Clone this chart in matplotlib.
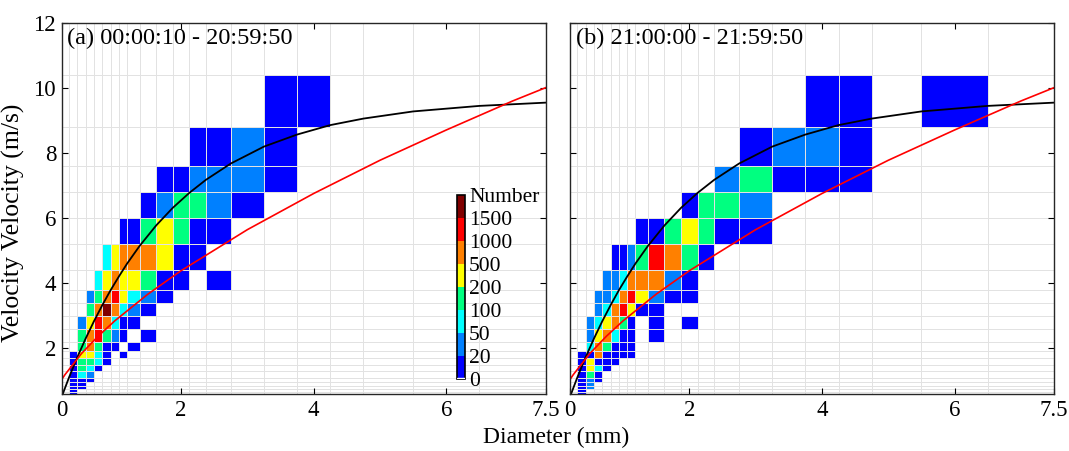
import numpy as np
import matplotlib
matplotlib.use('Agg')
import matplotlib.pyplot as plt
from matplotlib.colors import ListedColormap, BoundaryNorm
from matplotlib.cm import ScalarMappable

plt.rcParams['font.family'] = 'Liberation Serif'

# Parsivel class centres, used as pcolor vertices
diam_edges = [0.062, 0.187, 0.312, 0.437, 0.562, 0.687, 0.812, 0.937, 1.062, 1.187,
              1.375, 1.625, 1.875, 2.125, 2.375, 2.75, 3.25, 3.75, 4.25, 4.75,
              5.5, 6.5, 7.5, 8.5]
vel_edges = [0.45, 0.55, 0.65, 0.75, 0.85, 0.95, 1.1, 1.3, 1.5, 1.7, 1.9,
             2.2, 2.6, 3.0, 3.4, 3.8, 4.4, 5.2, 6.0, 6.8, 7.6, 8.8, 10.4, 12.0, 13.6]

# colour class of each cell (0 = none, 1 = 0-20 ... 8 = >1500), top row first,
# columns start at D = 0.187 mm, rows start at V = 0.55 m/s
class_a = [
    "...............11",
    "............1121",
    "..........112221",
    ".........124421",
    ".......1145411",
    ".....35666511",
    "....3565541101",
    "...24675321",
    "...4686321",
    "..2576311",
    "..46742101",
    "..4641101",
    ".1553101",
    ".14431",
    ".1431",
    ".132",
    ".111",
    ".11",
    ".11",
    ".1",
    ".1",
]
class_b = [
    "................11.1",
    "..............1221",
    ".............24111",
    "...........1442",
    "........1145411",
    ".....11247641",
    "....22366621",
    "...223675211",
    "...2367511",
    "..235641.1.1",
    "..256311.1",
    "..364111",
    ".1161111",
    ".15111",
    ".1531",
    ".141",
    ".121",
    ".12",
    ".12",
    ".1",
    ".1",
]

cb_labels = ['0', '20', '50', '100', '200', '500', '1000', '1500', 'Number']
colors = ['white', '#0000ff', '#0080ff', '#00ffff', '#00ff80', '#ffff00',
          '#ff8000', '#ff0000', '#800000']

# Atlas-type terminal velocity (black) and the red reference curve
black_d = [0.187, 0.312, 0.437, 0.562, 0.687, 0.812, 0.937, 1.062, 1.187, 1.375, 1.625,
           1.875, 2.125, 2.375, 2.75, 3.25, 3.75, 4.25, 4.75, 5.5, 6.5, 7.5]
black_v = [0.44, 1.11, 1.73, 2.30, 2.83, 3.32, 3.78, 4.20, 4.60, 5.14, 5.77,
           6.31, 6.77, 7.17, 7.67, 8.19, 8.56, 8.85, 9.05, 9.27, 9.44, 9.54]
red_d = [0.187, 0.25, 0.5, 0.75, 1.0, 1.5, 2.0, 3.0, 4.0, 5.0, 6.0, 7.0, 7.5]
red_v = [1.00, 1.19, 1.84, 2.37, 2.84, 3.66, 4.38, 5.64, 6.75, 7.77, 8.70, 9.59, 10.0]

titles = ['(a) 00:00:10 - 20:59:50', '(b) 21:00:00 - 21:59:50']


def to_grid(rows):
    nx = len(diam_edges) - 1
    ny = len(vel_edges) - 1
    g = np.zeros((ny, nx))
    for k, row in enumerate(rows[::-1]):
        for i, ch in enumerate(row):
            if ch != '.':
                g[k + 1, i + 1] = int(ch)
    return g


cmap = ListedColormap(colors)
norm = BoundaryNorm(np.arange(-0.5, 9.5, 1), cmap.N)

fig = plt.figure(figsize=(10.69, 4.51), dpi=100)
ax_a = fig.add_axes([0.0577, 0.1253, 0.4528, 0.8248])
ax_b = fig.add_axes([0.5332, 0.1253, 0.4528, 0.8248])

for ax, rows, title in [(ax_a, class_a, titles[0]), (ax_b, class_b, titles[1])]:
    ax.pcolormesh(diam_edges, vel_edges, to_grid(rows), cmap=cmap, norm=norm,
                  edgecolors='#e2e2e2', linewidth=0.65)
    ax.plot(black_d, black_v, color='k', lw=1.3)
    ax.plot(red_d, red_v, color='#ff0000', lw=1.2)
    ax.set_xlim(0.2, 7.5)
    ax.set_ylim(0.58, 12)
    ax.set_xticks([0.2, 2, 4, 6, 7.5])
    ax.set_xticklabels(['0', '2', '4', '6', '7.5'])
    ax.set_yticks([2, 4, 6, 8, 10, 12])
    ax.tick_params(direction='in', top=True, right=True, length=4, width=0.8,
                   labelsize=16.5, pad=4)
    for s in ax.spines.values():
        s.set_linewidth(1.0)
        s.set_color('#262626')
    ax.text(0.012, 0.985, title, transform=ax.transAxes, ha='left', va='top', fontsize=17.5)

ax_b.set_yticklabels([])
ax_a.set_ylabel('Velocity Velocity (m/s)', fontsize=18.5)
ax_a.yaxis.set_label_coords(-0.076, 0.461)
fig.text(556 / 1069, 1 - 437 / 451, 'Diameter (mm)', ha='center', va='center', fontsize=17)

# colour bar inside panel (a)
cax = fig.add_axes([457 / 1069, 1 - 379 / 451, 8 / 1069, 184 / 451])
sm = ScalarMappable(norm=BoundaryNorm(np.arange(0, 9), 8), cmap=ListedColormap(colors[1:]))
cb = fig.colorbar(sm, cax=cax, ticks=np.arange(0, 9))
cb.ax.set_yticklabels(cb_labels)
cb.ax.tick_params(length=0, labelsize=15.5, pad=3)
cb.ax.axhspan(0, 0.06, color='white', zorder=3)
cb.outline.set_linewidth(1.2)

fig.savefig('out.png', dpi=100)
